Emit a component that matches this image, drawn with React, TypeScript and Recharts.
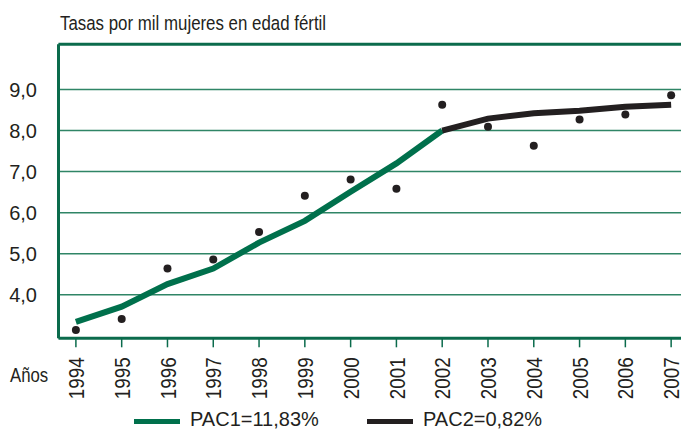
import React from "react";
import { ComposedChart, Line, XAxis, YAxis, CartesianGrid, ReferenceLine } from "recharts";

const years = [1994, 1995, 1996, 1997, 1998, 1999, 2000, 2001, 2002, 2003, 2004, 2005, 2006, 2007];
const observed = [3.14, 3.41, 4.64, 4.86, 5.53, 6.41, 6.81, 6.58, 8.63, 8.09, 7.63, 8.27, 8.39, 8.86];
const pac1Years = [1994, 1995, 1996, 1997, 1998, 1999, 2000, 2001, 2002];
const pac1Values = [3.34, 3.71, 4.26, 4.64, 5.27, 5.8, 6.51, 7.2, 8.0];
const pac2Years = [2002, 2003, 2004, 2005, 2006, 2007];
const pac2Values = [8.0, 8.29, 8.42, 8.48, 8.58, 8.63];
const yTicks = [4, 5, 6, 7, 8, 9];
const yTickLabels = ["4,0", "5,0", "6,0", "7,0", "8,0", "9,0"];
const titleText = "Tasas por mil mujeres en edad fértil";
const xAxisTitle = "Años";
const legendLabels = ["PAC1=11,83%", "PAC2=0,82%"];

const GREEN = "#00704c";
const BORDER = "#0b6b4c";
const GRID = "#2f8566";
const DARK = "#231f20";
const FONT = "'Liberation Sans', Arial, Helvetica, sans-serif";

const Y_MIN = 2.94;
const Y_MAX = 10.1;

const data = years.map((y, i) => {
  const i1 = pac1Years.indexOf(y);
  const i2 = pac2Years.indexOf(y);
  return {
    year: y,
    obs: observed[i],
    pac1: i1 >= 0 ? pac1Values[i1] : null,
    pac2: i2 >= 0 ? pac2Values[i2] : null,
  };
});

const YearTick = (props: any) => {
  const { x, y, payload } = props;
  return (
    <g transform={`translate(${x},${y}) rotate(-90) scale(0.84,1)`}>
      <text textAnchor="end" dy="0.36em" fontFamily={FONT} fontSize={22.5} fill={DARK}>
        {payload.value}
      </text>
    </g>
  );
};

const W = 681;
const H = 422;

export default function App() {
  return (
    <div style={{ position: "relative", width: W, height: H, overflow: "hidden" }}>
      <ComposedChart
        width={W}
        height={H}
        data={data}
        margin={{ top: 36.3, right: 0, left: 0, bottom: 0 }}
      >
        <CartesianGrid vertical={false} stroke={GRID} strokeWidth={1.5} />
        <XAxis
          dataKey="year"
          type="number"
          domain={[1993.62, 2007.39]}
          ticks={years}
          interval={0}
          allowDecimals={false}
          height={91.7}
          axisLine={{ stroke: BORDER, strokeWidth: 3 }}
          tickLine={{ stroke: BORDER, strokeWidth: 1.5 }}
          tickSize={9}
          tickMargin={10}
          tick={<YearTick />}
        />
        <YAxis
          type="number"
          domain={[Y_MIN, Y_MAX]}
          ticks={yTicks}
          interval={0}
          width={50.5}
          axisLine={{ stroke: BORDER, strokeWidth: 3 }}
          tickLine={false}
          tickMargin={15.5}
          tickFormatter={(v: number) => yTickLabels[yTicks.indexOf(v)]}
          tick={{ fontFamily: FONT, fontSize: 20, fill: DARK }}
        />
        <ReferenceLine y={Y_MAX} stroke={BORDER} strokeWidth={3} />
        <Line
          dataKey="pac1"
          type="linear"
          stroke={GREEN}
          strokeWidth={6}
          dot={false}
          activeDot={false}
          connectNulls={false}
          isAnimationActive={false}
        />
        <Line
          dataKey="pac2"
          type="linear"
          stroke={DARK}
          strokeWidth={6}
          dot={false}
          activeDot={false}
          connectNulls={false}
          isAnimationActive={false}
        />
        <Line
          dataKey="obs"
          type="linear"
          stroke="none"
          strokeWidth={0}
          dot={{ r: 4, fill: DARK, stroke: "none" }}
          activeDot={false}
          isAnimationActive={false}
        />
      </ComposedChart>
      <svg
        width={W}
        height={H}
        style={{ position: "absolute", left: 0, top: 0, pointerEvents: "none" }}
      >
        <g transform="translate(52,22) scale(0.865,1)">
          <text x={0} y={0} fontFamily={FONT} fontSize={19.5} fill={DARK}>
            {titleText}
          </text>
        </g>
        <g transform="translate(2,374) scale(0.86,1)">
          <text x={0} y={0} fontFamily={FONT} fontSize={19.5} fill={DARK}>
            {xAxisTitle}
          </text>
        </g>
        <line x1={126} x2={172} y1={413.5} y2={413.5} stroke={GREEN} strokeWidth={5} />
        <text x={182} y={417.5} fontFamily={FONT} fontSize={20} fill={DARK}>
          {legendLabels[0]}
        </text>
        <line x1={359} x2={405} y1={413.5} y2={413.5} stroke={DARK} strokeWidth={5} />
        <text x={415} y={417.5} fontFamily={FONT} fontSize={20} fill={DARK}>
          {legendLabels[1]}
        </text>
      </svg>
    </div>
  );
}
